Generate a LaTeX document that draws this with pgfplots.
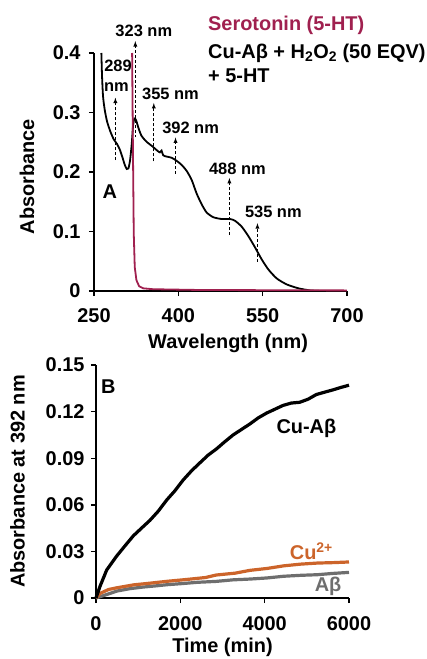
\documentclass[border=0pt]{standalone}
\usepackage{fontspec}
\setmainfont{Liberation Sans}
\usepackage{pgfplots}
\pgfplotsset{compat=1.18}
\definecolor{sero}{RGB}{160,32,79}
\definecolor{cuorange}{RGB}{204,100,42}
\definecolor{abgrey}{RGB}{110,110,110}
\newcommand{\bigfont}{\fontsize{20}{22}\selectfont\bfseries}
\newcommand{\annfont}{\fontsize{16.5}{18}\selectfont\bfseries}
\pgfplotsset{
  panel/.style={
    scale only axis,
    axis x line*=bottom, axis y line*=left,
    axis line style={-, line width=1.6bp},
    tick align=outside, major tick length=5bp,
    tick style={line width=1.4bp, black},
    tick label style={font=\bigfont},
    label style={font=\bigfont},
    /pgf/number format/assume math mode=true,
    clip=false,
  },
}
\begin{document}
\begin{tikzpicture}
\path[use as bounding box] (0bp,0bp) rectangle (427bp,-659bp);
% ---- panel A: spectra
\begin{axis}[panel,
  at={(94bp,-291bp)}, anchor=south west,
  width=253bp, height=238bp,
  xmin=250, xmax=700, ymin=0, ymax=0.4,
  xtick={250,400,550,700},
  ytick={0,0.1,0.2,0.3,0.4},
  yticklabels={0,0.1,0.2,0.3,0.4},
  xticklabel style={yshift=-9bp},
  yticklabel style={xshift=-5bp},
  xlabel={Wavelength (nm)}, ylabel={Absorbance},
  xlabel style={at={(axis description cs:0.53,-0.22)}, anchor=center},
  ylabel style={at={(axis description cs:-0.265,0.48)}, anchor=center},
]
\addplot[black, line width=1.8bp, smooth, tension=0.4] coordinates {
(263.1,0.400)(264.3,0.361)(266.1,0.327)(269.0,0.305)(273.2,0.285)(279.1,0.268)
(285.1,0.255)(291.0,0.247)(295.8,0.238)(300.5,0.225)(304.7,0.212)(308.3,0.205)
(311.2,0.206)(314.2,0.220)(317.2,0.248)(319.6,0.279)(321.9,0.290)(324.9,0.287)
(329.1,0.274)(334.4,0.261)(343.3,0.251)(354.0,0.243)(362.4,0.236)(367.1,0.233)
(370.1,0.236)(373.1,0.228)(379.0,0.226)(388.0,0.224)(396.8,0.219)(405.8,0.212)
(414.7,0.202)(423.6,0.187)(432.5,0.164)(441.4,0.146)(450.3,0.132)(462.2,0.124)
(477.1,0.121)(491.9,0.121)(500.9,0.118)(512.8,0.108)(524.7,0.092)(536.6,0.073)
(548.4,0.053)(560.3,0.036)(575.2,0.021)(593.0,0.011)(613.8,0.0045)(634.6,0.001)
(655.4,0.0)};
\addplot[sero, line width=1.8bp] coordinates {
(317.8,0.400)(319.0,0.265)(320.7,0.097)(322.5,0.040)(325.5,0.018)(330.3,0.008)
(337.4,0.0045)(355.2,0.003)(438.5,0.0017)(700,0.001)};
% dashed markers
\draw[densely dashed, line width=0.9bp, -latex] (axis cs:288,0.22) -- (axis cs:288,0.325);
\draw[densely dashed, line width=0.9bp, -latex] (axis cs:323.5,0.258) -- (axis cs:323.5,0.42);
\draw[densely dashed, line width=0.9bp, -latex] (axis cs:356.4,0.218) -- (axis cs:356.4,0.316);
\draw[densely dashed, line width=0.9bp, -latex] (axis cs:395,0.197) -- (axis cs:395,0.258);
\draw[densely dashed, line width=0.9bp, -latex] (axis cs:490.8,0.094) -- (axis cs:490.8,0.19);
\draw[densely dashed, line width=0.9bp, -latex] (axis cs:540.7,0.049) -- (axis cs:540.7,0.114);
\node[font=\annfont] at (axis cs:292.8,0.378) {289};
\node[font=\annfont] at (axis cs:289.8,0.343) {nm};
\node[font=\annfont] at (axis cs:338.6,0.437) {323 nm};
\node[font=\annfont] at (axis cs:386,0.332) {355 nm};
\node[font=\annfont] at (axis cs:421.8,0.274) {392 nm};
\node[font=\annfont] at (axis cs:505,0.205) {488 nm};
\node[font=\annfont] at (axis cs:569,0.133) {535 nm};
\node[font=\bigfont] at (axis cs:278,0.167) {A};
\end{axis}
\node[anchor=west, font=\bigfont, text=sero, inner sep=0] at (208bp,-25bp) {Serotonin (5-HT)};
\node[anchor=west, font=\bigfont, inner sep=0] at (208bp,-53bp) {Cu-Aβ + H\textsubscript{2}O\textsubscript{2} (50 EQV)};
\node[anchor=west, font=\bigfont, inner sep=0] at (208bp,-76bp) {+ 5-HT};
% ---- panel B: kinetics
\begin{axis}[panel,
  at={(96bp,-598bp)}, anchor=south west,
  width=253bp, height=233bp,
  xmin=0, xmax=6000, ymin=0, ymax=0.15,
  xtick={0,2000,4000,6000}, xticklabels={0,2000,4000,6000},
  ytick={0,0.03,0.06,0.09,0.12,0.15},
  yticklabels={0,0.03,0.06,0.09,0.12,0.15},
  xticklabel style={yshift=-10bp},
  yticklabel style={xshift=-3bp},
  xlabel={Time (min)}, ylabel={Absorbance at 392 nm},
  xlabel style={at={(axis description cs:0.5,-0.212)}, anchor=center},
  ylabel style={at={(axis description cs:-0.31,0.5)}, anchor=center},
]
\addplot[abgrey, line width=3.2bp] coordinates {
(0,0)(250,0.0022)(500,0.0045)(800,0.0060)(1100,0.0070)(1450,0.0079)(1700,0.0086)
(2050,0.0093)(2400,0.0101)(2850,0.0107)(3250,0.0117)(3650,0.0122)(4050,0.0129)
(4450,0.0140)(4850,0.0146)(5250,0.0150)(5600,0.0158)(6000,0.0165)};
\addplot[cuorange, line width=3.2bp] coordinates {
(0,0)(100,0.0030)(300,0.0055)(500,0.0066)(900,0.0085)(1300,0.0096)(1700,0.0108)
(2100,0.0118)(2600,0.0132)(2850,0.0148)(3300,0.0160)(3650,0.0178)(4050,0.0190)
(4450,0.0207)(4850,0.0218)(5250,0.0225)(5650,0.0228)(6000,0.0232)};
\addplot[black, line width=3.2bp] coordinates {
(0,0)(95,0.0075)(253,0.018)(490,0.027)(700,0.034)(884,0.040)(1080,0.045)(1279,0.050)
(1480,0.056)(1674,0.063)(1870,0.069)(2068,0.076)(2270,0.082)(2463,0.087)(2660,0.092)
(2858,0.096)(3050,0.1005)(3253,0.105)(3450,0.1085)(3647,0.112)(3850,0.116)(4042,0.119)
(4240,0.1215)(4437,0.124)(4630,0.1255)(4832,0.126)(5030,0.128)(5226,0.131)(5420,0.1325)
(5621,0.134)(5800,0.1355)(6000,0.137)};
\node[font=\bigfont] at (axis cs:4990,0.109) {Cu-Aβ};
\node[font=\bigfont, text=cuorange] at (axis cs:5108,0.030) {Cu\textsuperscript{2+}};
\node[font=\bigfont, text=abgrey] at (axis cs:5503,0.0075) {Aβ};
\node[font=\bigfont] at (axis cs:292,0.136) {B};
\end{axis}
\end{tikzpicture}
\end{document}
